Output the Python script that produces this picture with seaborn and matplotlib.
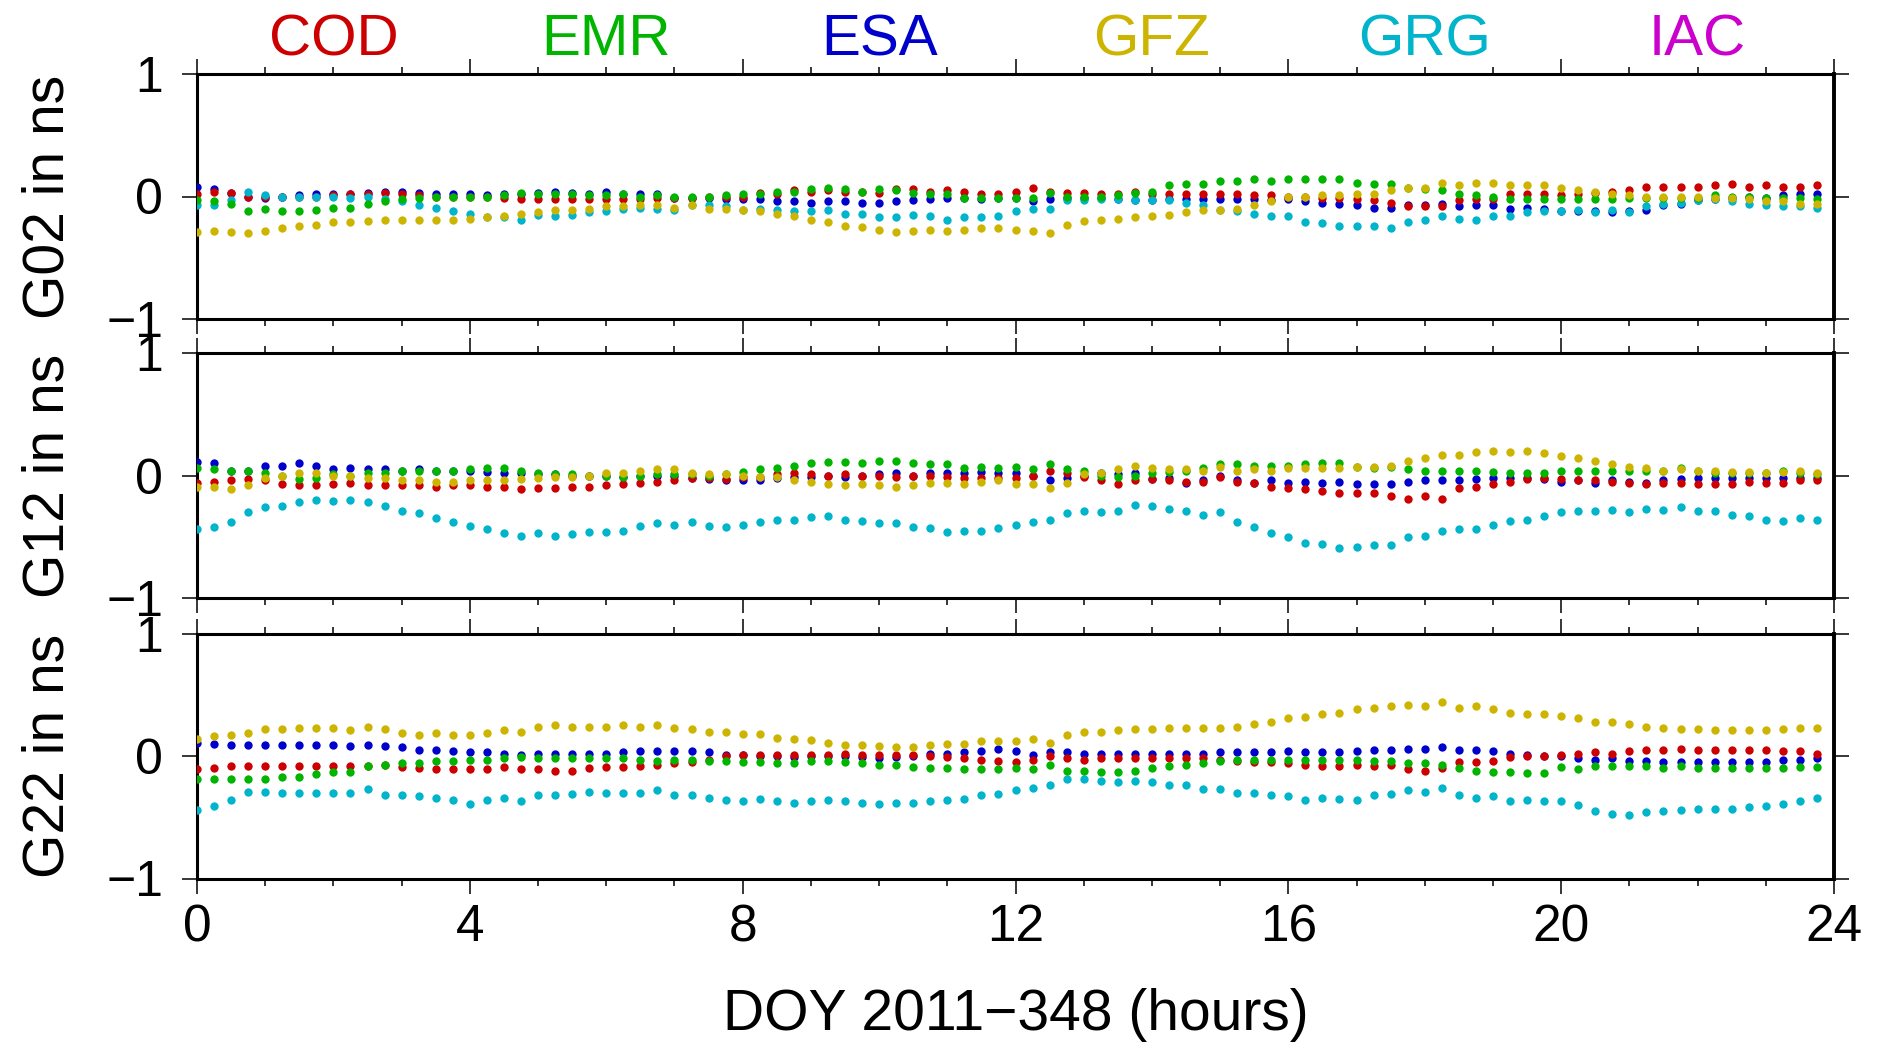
import numpy as np
import pandas as pd
import matplotlib
matplotlib.use("Agg")
import matplotlib.pyplot as plt
import seaborn as sns
from matplotlib.ticker import MultipleLocator, FixedLocator
from matplotlib.transforms import blended_transform_factory

# Analysis centres and their colours
centers = ["COD", "EMR", "ESA", "GFZ", "GRG", "IAC"]
center_colors = ["#cc0000", "#00b400", "#0000cc", "#ccb400", "#00b4cc", "#cc00cc"]
satellites = ["G02", "G12", "G22"]
epoch_step_h = 0.25  # 15-minute clock epochs
xticks_major = [0, 4, 8, 12, 16, 20, 24]
yticks = [-1, 0, 1]

# Clock differences (ns), 96 epochs per series
g02_cod = [0.02, 0.04, 0.03, 0.00, 0.00, 0.00, 0.00, 0.00, 0.01, 0.02, 0.02, 0.03, 0.02, 0.01, 0.00, 0.00, 0.00, 0.00, -0.01, -0.02, -0.02, -0.02, -0.02, -0.02, -0.02, -0.02, -0.02, -0.01, -0.01, -0.01, 0.00, 0.00, 0.00,
           0.03, 0.02, 0.05, 0.04, 0.05, 0.04, 0.04, 0.03, 0.06, 0.06, 0.04, 0.05, 0.04, 0.02, 0.02, 0.04, 0.07, 0.04, 0.03, 0.03, 0.02, 0.02, 0.04, 0.02, 0.02, 0.02, 0.02, 0.02, 0.02, 0.01, 0.01,
           0.00, 0.00, -0.01, -0.01, -0.02, -0.03, -0.05, -0.08, -0.08, -0.08, -0.03, -0.02, -0.02, 0.02, 0.02, 0.02, 0.01, 0.02, 0.03, 0.04, 0.05, 0.08, 0.08, 0.08, 0.08, 0.09, 0.10, 0.08, 0.09, 0.08, 0.08, 0.09]
g02_emr = [-0.03, -0.04, -0.06, -0.12, -0.10, -0.12, -0.12, -0.11, -0.09, -0.09, -0.06, -0.04, -0.02, -0.01, 0.00, 0.00, 0.00, 0.00, 0.01, 0.03, 0.02, 0.02, 0.02, 0.01, 0.01, 0.02, 0.00, 0.01, 0.00, 0.00, 0.00, 0.01, 0.02,
           0.02, 0.04, 0.04, 0.06, 0.07, 0.06, 0.04, 0.06, 0.05, 0.03, 0.02, 0.02, -0.01, -0.01, -0.01, -0.01, -0.01, 0.03, 0.00, 0.00, 0.00, 0.01, 0.03, 0.04, 0.09, 0.10, 0.10, 0.13, 0.13, 0.14, 0.13,
           0.14, 0.14, 0.14, 0.14, 0.11, 0.10, 0.10, 0.07, 0.06, 0.05, 0.02, 0.01, 0.00, -0.02, -0.02, -0.02, -0.02, -0.02, -0.02, -0.02, -0.01, -0.01, -0.01, -0.01, -0.01, 0.01, 0.00, 0.00, -0.01, -0.01, -0.01, -0.02]
g02_esa = [0.08, 0.06, 0.03, 0.00, -0.01, 0.00, 0.01, 0.02, 0.02, 0.02, 0.03, 0.04, 0.04, 0.03, 0.02, 0.02, 0.02, 0.01, 0.02, 0.02, 0.03, 0.04, 0.03, 0.02, 0.04, 0.02, 0.02, 0.02, -0.01, -0.01, -0.01, -0.02, -0.02,
           -0.02, -0.04, -0.04, -0.05, -0.04, -0.04, -0.05, -0.05, -0.04, -0.03, -0.02, -0.01, -0.01, -0.02, -0.01, -0.01, -0.04, -0.02, -0.01, -0.01, -0.01, -0.02, -0.03, -0.03, -0.02, -0.02, -0.02, -0.02, -0.02, -0.02, -0.03,
           -0.02, -0.04, -0.05, -0.06, -0.07, -0.09, -0.09, -0.07, -0.07, -0.06, -0.08, -0.07, -0.07, -0.10, -0.09, -0.10, -0.12, -0.12, -0.12, -0.13, -0.12, -0.11, -0.07, -0.06, -0.03, -0.02, -0.01, 0.00, -0.01, 0.01, 0.02, 0.02]
g02_gfz = [-0.29, -0.28, -0.29, -0.30, -0.28, -0.26, -0.24, -0.23, -0.21, -0.21, -0.20, -0.19, -0.19, -0.19, -0.19, -0.19, -0.18, -0.17, -0.16, -0.14, -0.13, -0.11, -0.11, -0.10, -0.08, -0.08, -0.07, -0.07, -0.09, -0.07, -0.10, -0.10, -0.11,
           -0.12, -0.14, -0.16, -0.19, -0.21, -0.24, -0.25, -0.27, -0.29, -0.28, -0.27, -0.28, -0.27, -0.26, -0.26, -0.27, -0.28, -0.30, -0.23, -0.20, -0.19, -0.18, -0.17, -0.16, -0.15, -0.13, -0.11, -0.11, -0.10, -0.07, -0.04,
           0.00, 0.00, 0.01, 0.01, 0.02, 0.02, 0.05, 0.07, 0.07, 0.11, 0.09, 0.11, 0.11, 0.09, 0.09, 0.09, 0.07, 0.05, 0.04, 0.02, 0.01, 0.00, 0.00, 0.00, 0.00, -0.01, -0.01, -0.02, -0.04, -0.04, -0.06, -0.06]
g02_grg = [-0.07, -0.07, -0.03, 0.04, 0.01, 0.00, 0.00, 0.00, 0.00, -0.01, 0.00, -0.02, -0.04, -0.07, -0.09, -0.12, -0.14, -0.17, -0.17, -0.19, -0.15, -0.16, -0.15, -0.13, -0.12, -0.10, -0.09, -0.10, -0.11, -0.07, -0.07, -0.08, -0.11,
           -0.10, -0.11, -0.12, -0.12, -0.11, -0.14, -0.14, -0.17, -0.17, -0.15, -0.16, -0.19, -0.17, -0.17, -0.16, -0.12, -0.10, -0.10, -0.03, -0.03, -0.02, -0.02, -0.03, -0.03, -0.03, -0.05, -0.07, -0.11, -0.12, -0.14, -0.16,
           -0.16, -0.21, -0.22, -0.24, -0.24, -0.24, -0.26, -0.21, -0.19, -0.16, -0.18, -0.19, -0.16, -0.16, -0.13, -0.12, -0.12, -0.11, -0.13, -0.11, -0.13, -0.08, -0.06, -0.05, -0.03, -0.02, -0.04, -0.06, -0.07, -0.08, -0.08, -0.09]

g12_cod = [-0.06, -0.05, -0.04, -0.03, -0.04, -0.07, -0.08, -0.08, -0.07, -0.06, -0.08, -0.08, -0.08, -0.08, -0.09, -0.08, -0.08, -0.09, -0.09, -0.11, -0.10, -0.10, -0.09, -0.09, -0.08, -0.07, -0.06, -0.05, -0.04, -0.02, -0.02, -0.03, -0.01,
           -0.01, 0.01, 0.02, 0.01, 0.00, 0.01, 0.00, 0.00, -0.01, 0.00, 0.00, -0.01, -0.02, -0.02, -0.02, -0.02, 0.00, 0.04, 0.02, -0.01, -0.04, -0.07, -0.04, -0.03, -0.04, -0.05, -0.05, -0.01, -0.05, -0.06, -0.09,
           -0.10, -0.11, -0.13, -0.14, -0.14, -0.14, -0.17, -0.19, -0.17, -0.19, -0.10, -0.09, -0.07, -0.05, -0.03, -0.02, -0.03, -0.04, -0.04, -0.05, -0.06, -0.07, -0.06, -0.06, -0.07, -0.07, -0.07, -0.05, -0.06, -0.06, -0.04, -0.04]
g12_emr = [0.06, 0.05, 0.04, 0.04, 0.02, 0.00, -0.03, -0.02, 0.01, 0.00, 0.02, 0.02, 0.04, 0.04, 0.04, 0.04, 0.05, 0.06, 0.06, 0.04, 0.02, 0.01, 0.01, 0.00, 0.00, -0.01, 0.00, 0.01, 0.01, 0.01, 0.00, 0.01, 0.03,
           0.05, 0.06, 0.08, 0.10, 0.11, 0.11, 0.10, 0.12, 0.12, 0.10, 0.09, 0.09, 0.06, 0.07, 0.06, 0.07, 0.05, 0.09, 0.05, 0.04, 0.00, -0.01, 0.00, 0.02, 0.03, 0.04, 0.06, 0.09, 0.09, 0.08, 0.08,
           0.08, 0.09, 0.10, 0.10, 0.07, 0.06, 0.07, 0.05, 0.04, 0.04, 0.04, 0.04, 0.03, 0.02, 0.02, 0.02, 0.04, 0.04, 0.04, 0.04, 0.04, 0.04, 0.04, 0.06, 0.04, 0.02, 0.02, 0.02, 0.02, 0.04, 0.02, 0.01]
g12_esa = [0.11, 0.10, 0.04, 0.04, 0.08, 0.08, 0.10, 0.08, 0.05, 0.06, 0.05, 0.05, 0.04, 0.05, 0.04, 0.04, 0.04, 0.03, 0.02, 0.02, 0.01, 0.01, 0.00, 0.00, 0.00, -0.01, 0.00, 0.00, 0.00, -0.02, -0.03, -0.04, -0.04,
           -0.04, -0.02, -0.01, -0.01, 0.00, -0.01, 0.00, 0.01, 0.02, 0.00, 0.02, 0.02, 0.02, 0.03, 0.02, 0.02, 0.00, -0.04, -0.02, 0.00, 0.02, 0.01, 0.02, -0.03, -0.02, -0.06, -0.04, 0.00, -0.04, -0.06, -0.04,
           -0.06, -0.05, -0.06, -0.05, -0.07, -0.07, -0.07, -0.05, -0.04, -0.04, -0.04, -0.03, -0.02, -0.02, -0.02, -0.03, -0.05, -0.04, -0.06, -0.04, -0.05, -0.06, -0.04, -0.03, -0.02, -0.02, -0.02, -0.02, -0.02, -0.02, -0.02, -0.02]
g12_gfz = [-0.09, -0.09, -0.11, -0.08, -0.02, 0.00, 0.02, 0.02, 0.00, 0.00, -0.02, -0.02, -0.04, -0.04, -0.05, -0.05, -0.04, -0.04, -0.04, -0.03, -0.02, -0.01, -0.01, 0.00, 0.02, 0.02, 0.04, 0.05, 0.05, 0.02, 0.01, 0.01, 0.00,
           -0.01, -0.01, -0.04, -0.05, -0.07, -0.08, -0.07, -0.08, -0.09, -0.08, -0.06, -0.06, -0.07, -0.05, -0.04, -0.07, -0.07, -0.10, -0.06, 0.01, 0.02, 0.05, 0.08, 0.06, 0.05, 0.05, 0.04, 0.07, 0.04, 0.05, 0.04,
           0.06, 0.06, 0.06, 0.06, 0.07, 0.07, 0.08, 0.12, 0.14, 0.17, 0.17, 0.19, 0.20, 0.19, 0.20, 0.18, 0.16, 0.14, 0.12, 0.09, 0.07, 0.06, 0.04, 0.05, 0.04, 0.04, 0.03, 0.03, 0.02, 0.03, 0.04, 0.02]
g12_grg = [-0.44, -0.42, -0.38, -0.30, -0.26, -0.25, -0.22, -0.20, -0.21, -0.20, -0.22, -0.25, -0.29, -0.31, -0.35, -0.38, -0.41, -0.44, -0.47, -0.49, -0.47, -0.49, -0.48, -0.46, -0.46, -0.45, -0.41, -0.39, -0.40, -0.38, -0.41, -0.42, -0.40,
           -0.38, -0.36, -0.36, -0.34, -0.33, -0.36, -0.37, -0.39, -0.39, -0.42, -0.43, -0.46, -0.45, -0.45, -0.43, -0.40, -0.38, -0.36, -0.31, -0.29, -0.30, -0.29, -0.24, -0.25, -0.27, -0.29, -0.32, -0.30, -0.38, -0.42, -0.47,
           -0.50, -0.55, -0.56, -0.59, -0.58, -0.57, -0.57, -0.50, -0.49, -0.45, -0.44, -0.44, -0.40, -0.37, -0.36, -0.33, -0.30, -0.29, -0.29, -0.28, -0.30, -0.27, -0.28, -0.26, -0.29, -0.29, -0.32, -0.33, -0.36, -0.37, -0.35, -0.36]

g22_cod = [-0.11, -0.10, -0.08, -0.08, -0.08, -0.08, -0.08, -0.08, -0.08, -0.08, -0.08, -0.07, -0.09, -0.10, -0.11, -0.11, -0.11, -0.11, -0.09, -0.11, -0.11, -0.12, -0.12, -0.10, -0.09, -0.09, -0.08, -0.07, -0.06, -0.05, -0.03, 0.00, 0.01,
           0.01, 0.01, 0.01, 0.01, 0.01, 0.02, 0.01, 0.01, 0.01, 0.01, 0.00, -0.01, -0.02, -0.03, -0.04, -0.05, -0.03, 0.00, -0.02, -0.03, -0.02, -0.02, -0.02, -0.02, -0.02, -0.02, -0.02, -0.03, -0.04, -0.05, -0.05,
           -0.06, -0.07, -0.08, -0.08, -0.07, -0.08, -0.07, -0.11, -0.12, -0.10, -0.05, -0.05, -0.04, -0.01, 0.00, 0.00, 0.01, 0.02, 0.03, 0.02, 0.04, 0.05, 0.05, 0.06, 0.05, 0.05, 0.05, 0.05, 0.05, 0.04, 0.04, 0.02]
g22_emr = [-0.19, -0.19, -0.19, -0.19, -0.19, -0.17, -0.17, -0.15, -0.13, -0.13, -0.08, -0.07, -0.06, -0.06, -0.04, -0.04, -0.03, -0.03, -0.02, -0.01, -0.02, -0.02, -0.02, -0.02, -0.02, -0.02, -0.03, -0.04, -0.03, -0.03, -0.04, -0.04, -0.05,
           -0.05, -0.06, -0.06, -0.04, -0.04, -0.05, -0.06, -0.07, -0.07, -0.09, -0.10, -0.10, -0.11, -0.11, -0.11, -0.10, -0.11, -0.07, -0.12, -0.12, -0.13, -0.13, -0.12, -0.10, -0.08, -0.07, -0.06, -0.04, -0.03, -0.03, -0.03,
           -0.03, -0.03, -0.03, -0.03, -0.03, -0.04, -0.04, -0.06, -0.06, -0.07, -0.10, -0.12, -0.13, -0.13, -0.14, -0.14, -0.09, -0.11, -0.08, -0.08, -0.08, -0.08, -0.10, -0.08, -0.10, -0.10, -0.10, -0.10, -0.10, -0.10, -0.09, -0.09]
g22_esa = [0.11, 0.10, 0.09, 0.09, 0.09, 0.09, 0.09, 0.09, 0.09, 0.08, 0.09, 0.08, 0.07, 0.05, 0.05, 0.04, 0.03, 0.03, 0.02, 0.01, 0.02, 0.02, 0.02, 0.02, 0.02, 0.03, 0.04, 0.04, 0.04, 0.04, 0.03, 0.01, 0.01,
           0.00, 0.00, -0.01, 0.00, 0.00, 0.00, -0.01, -0.02, -0.01, 0.00, 0.02, 0.02, 0.03, 0.04, 0.06, 0.04, 0.01, 0.03, 0.03, 0.02, 0.02, 0.02, 0.02, 0.02, 0.02, 0.02, 0.02, 0.03, 0.03, 0.03, 0.03,
           0.04, 0.03, 0.03, 0.03, 0.04, 0.05, 0.05, 0.06, 0.06, 0.07, 0.05, 0.05, 0.04, 0.02, 0.01, 0.00, 0.00, -0.02, -0.03, -0.02, -0.04, -0.04, -0.05, -0.05, -0.05, -0.05, -0.05, -0.05, -0.05, -0.03, -0.03, -0.02]
g22_gfz = [0.14, 0.16, 0.17, 0.19, 0.22, 0.22, 0.23, 0.23, 0.23, 0.21, 0.24, 0.22, 0.19, 0.17, 0.19, 0.17, 0.17, 0.19, 0.21, 0.20, 0.24, 0.25, 0.24, 0.24, 0.24, 0.25, 0.24, 0.25, 0.23, 0.22, 0.20, 0.20, 0.18,
           0.18, 0.15, 0.14, 0.13, 0.11, 0.09, 0.09, 0.08, 0.07, 0.07, 0.09, 0.10, 0.10, 0.12, 0.12, 0.12, 0.14, 0.11, 0.17, 0.20, 0.20, 0.21, 0.22, 0.22, 0.23, 0.23, 0.23, 0.23, 0.24, 0.26, 0.28,
           0.31, 0.32, 0.34, 0.35, 0.38, 0.39, 0.41, 0.42, 0.41, 0.44, 0.39, 0.41, 0.38, 0.35, 0.34, 0.34, 0.33, 0.31, 0.28, 0.28, 0.26, 0.24, 0.23, 0.22, 0.22, 0.21, 0.21, 0.21, 0.21, 0.22, 0.23, 0.23]
g22_grg = [-0.44, -0.41, -0.36, -0.29, -0.29, -0.30, -0.30, -0.30, -0.30, -0.30, -0.27, -0.32, -0.32, -0.33, -0.34, -0.36, -0.39, -0.36, -0.34, -0.37, -0.32, -0.32, -0.31, -0.29, -0.30, -0.30, -0.30, -0.28, -0.32, -0.32, -0.34, -0.36, -0.37,
           -0.35, -0.37, -0.38, -0.37, -0.36, -0.37, -0.38, -0.39, -0.38, -0.38, -0.37, -0.36, -0.35, -0.32, -0.31, -0.28, -0.26, -0.24, -0.19, -0.19, -0.20, -0.21, -0.20, -0.21, -0.24, -0.24, -0.27, -0.27, -0.30, -0.30, -0.32,
           -0.33, -0.36, -0.34, -0.35, -0.36, -0.32, -0.31, -0.28, -0.29, -0.26, -0.32, -0.34, -0.33, -0.37, -0.36, -0.37, -0.37, -0.40, -0.45, -0.47, -0.48, -0.46, -0.45, -0.44, -0.43, -0.43, -0.43, -0.42, -0.41, -0.39, -0.37, -0.34]

series = {
    ("G02", "COD"): g02_cod, ("G02", "EMR"): g02_emr, ("G02", "ESA"): g02_esa,
    ("G02", "GFZ"): g02_gfz, ("G02", "GRG"): g02_grg,
    ("G12", "COD"): g12_cod, ("G12", "EMR"): g12_emr, ("G12", "ESA"): g12_esa,
    ("G12", "GFZ"): g12_gfz, ("G12", "GRG"): g12_grg,
    ("G22", "COD"): g22_cod, ("G22", "EMR"): g22_emr, ("G22", "ESA"): g22_esa,
    ("G22", "GFZ"): g22_gfz, ("G22", "GRG"): g22_grg,
}

rows = []
for (sat, ac), vals in series.items():
    for k, v in enumerate(vals):
        rows.append((sat, ac, k * epoch_step_h, v))
df = pd.DataFrame(rows, columns=["sat", "center", "hour", "offset"])
palette = dict(zip(centers, center_colors))

sns.set_style("ticks")
plt.rcParams["font.family"] = ["Liberation Sans", "DejaVu Sans"]
plt.rcParams.update({
    "text.color": "black",
    "axes.labelcolor": "black",
    "xtick.color": "black",
    "ytick.color": "black",
    "axes.edgecolor": "black",
})

W, H = 1879, 1043
fig = plt.figure(figsize=(W / 100, H / 100), dpi=100)

ax_left = 197 / W
ax_width = 1637 / W
ax_height = 245 / H
ax_bottoms = [1 - 319 / H, 1 - 598 / H, 1 - 878.5 / H]
draw_order = ["ESA", "COD", "GRG", "EMR", "GFZ"]

axes = []
for sat, b in zip(satellites, ax_bottoms):
    ax = fig.add_axes([ax_left, b, ax_width, ax_height])
    sub = df[df["sat"] == sat]
    for ac in draw_order:
        sns.scatterplot(data=sub[sub["center"] == ac], x="hour", y="offset",
                        color=palette[ac], s=36, linewidth=0, ax=ax,
                        legend=False, zorder=3)
    ax.set_xlim(0, 24)
    ax.set_ylim(-1, 1)
    ax.xaxis.set_major_locator(FixedLocator(xticks_major))
    ax.xaxis.set_minor_locator(MultipleLocator(1))
    ax.yaxis.set_major_locator(FixedLocator(yticks))
    ax.set_xlabel("")
    ax.set_ylabel("")
    for side, spine in ax.spines.items():
        spine.set_visible(True)
        spine.set_linewidth(2.8 if side == "right" else 2.2)
        spine.set_color("black")
    ax.tick_params(axis="x", which="major", direction="out", length=10.8,
                   width=1.1, top=True, bottom=True, labelsize=37, pad=7,
                   labelbottom=False, colors="black")
    ax.tick_params(axis="x", which="minor", direction="out", length=5,
                   width=1.1, top=True, bottom=True, colors="black")
    ax.tick_params(axis="y", which="major", direction="out", length=10.8,
                   width=1.1, left=True, right=True, labelsize=36, pad=13.5,
                   colors="black")
    fig.text(49 / W, b + ax_height / 2, f"{sat} in ns", rotation=90,
             ha="center", va="center", fontsize=41, color="black")
    axes.append(ax)

axes[-1].tick_params(axis="x", which="major", labelbottom=True)
axes[-1].set_xticklabels([str(t) for t in xticks_major])

fig.text((197 + 1834) / 2 / W, 1 - 1030 / H, "DOY 2011\u2212348 (hours)",
         ha="center", va="baseline", fontsize=41, color="black")

# Analysis-centre key along the top
key_trans = blended_transform_factory(axes[0].transData, fig.transFigure)
for k, (ac, col) in enumerate(zip(centers, center_colors)):
    axes[0].text(2 + 4 * k, 1 - 55 / H, ac, color=col, fontsize=42,
                 ha="center", va="baseline", transform=key_trans)

fig.savefig("out.png", dpi=100)
